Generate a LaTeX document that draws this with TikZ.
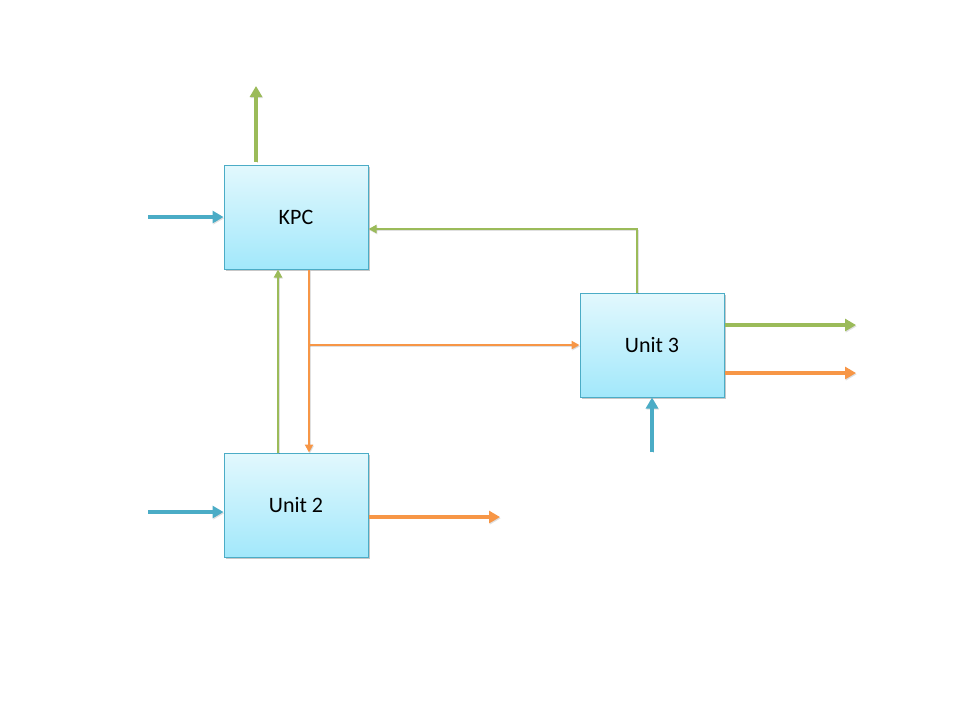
\documentclass[tikz,border=0pt]{standalone}
\usepackage{fontspec}
\setmainfont{Carlito}
\usetikzlibrary{arrows.meta,shadows}

\definecolor{flowgreen}{HTML}{9BBB59}
\definecolor{floworange}{HTML}{F79646}
\definecolor{flowblue}{HTML}{4BACC6}
\definecolor{boxline}{HTML}{4BACC6}
\definecolor{boxtop}{HTML}{E2F8FD}
\definecolor{boxbottom}{HTML}{A2E8FB}

\begin{document}
\begin{tikzpicture}[x=1pt,y=-1pt,
  unitbox/.style={draw=boxline, line width=1pt, top color=boxtop, bottom color=boxbottom,
    minimum width=144pt, minimum height=104pt, inner sep=0pt,
    font=\fontsize{22}{26}\selectfont,
    drop shadow={shadow xshift=1.5pt, shadow yshift=-1.5pt, opacity=0.22, fill=black}},
  flowshadow/.style={preaction={draw=black, opacity=0.12,
    transform canvas={xshift=0.8pt, yshift=-1.2pt}}},
  bigflow/.style={flowshadow, line width=4pt, -{Triangle[length=11pt,width=12pt]}},
  smallflow/.style={flowshadow, line width=2.2pt, -{Triangle[length=8pt,width=8pt]}}
]
\useasboundingbox (0,0) rectangle (960,720);

% process units
\node[unitbox] (kpc) at (296,217) {KPC};
\node[unitbox] (u2)  at (296,505) {Unit 2};
\node[unitbox] (u3)  at (652,345) {Unit 3};

% free ends and bends
\coordinate (kpcout) at (256,86);
\coordinate (kpcin)  at (148,217);
\coordinate (fbcorner) at (637,229);
\coordinate (gx) at (278,0);
\coordinate (ox) at (309,345);
\coordinate (u3g) at (856,325);
\coordinate (u3o) at (856,373);
\coordinate (u3in) at (652,452);
\coordinate (u2in) at (148,512);
\coordinate (u2out) at (500,517);

% KPC streams
\draw[bigflow, flowgreen] ([yshift=3pt]kpc.north -| kpcout) -- (kpcout);
\draw[bigflow, flowblue] (kpcin) -- (kpc.west);

% recycle from Unit 3 back to KPC
\draw[smallflow, flowgreen] (u3.north -| fbcorner) -- (fbcorner) -- (kpc.east |- fbcorner);

% exchange between KPC and Unit 2
\draw[smallflow, flowgreen] (u2.north -| gx) -- (kpc.south -| gx);
\draw[smallflow, floworange] (kpc.south -| ox) -- (u2.north -| ox);
\draw[smallflow, floworange] (ox) -- (u3.west |- ox);

% Unit 3 streams
\draw[bigflow, flowgreen] (u3.east |- u3g) -- (u3g);
\draw[bigflow, floworange] (u3.east |- u3o) -- (u3o);
\draw[bigflow, flowblue] (u3in) -- (u3.south);

% Unit 2 streams
\draw[bigflow, flowblue] (u2in) -- (u2.west |- u2in);
\draw[bigflow, floworange] (u2.east |- u2out) -- (u2out);
\end{tikzpicture}
\end{document}
